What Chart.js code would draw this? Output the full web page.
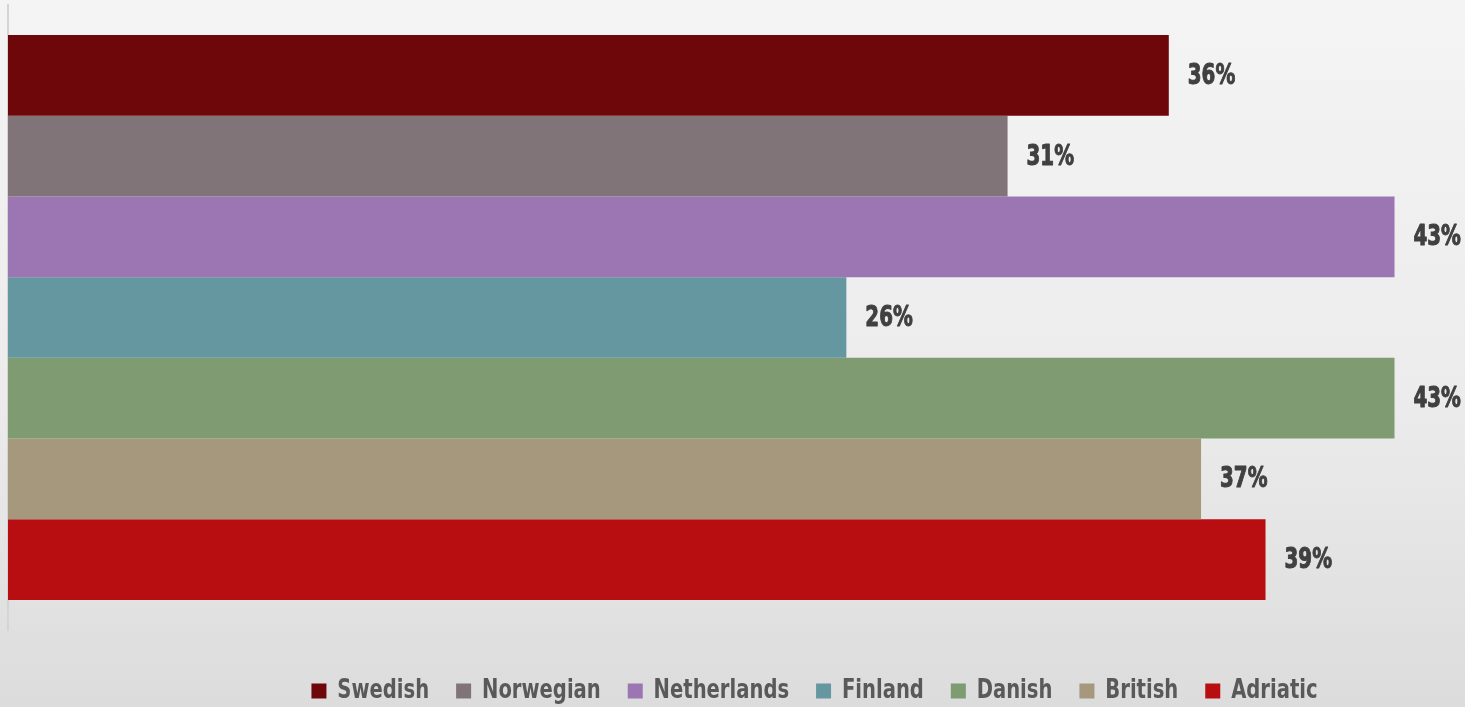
<!DOCTYPE html>
<html><head><meta charset="utf-8">
<script src="https://cdn.jsdelivr.net/npm/chart.js@4.4.1/dist/chart.umd.min.js"></script>
<style>
html,body{margin:0;padding:0;width:1465px;height:707px;overflow:hidden;}
body{background:linear-gradient(180deg,#f4f4f4 0%,#ececec 55%,#dcdcdc 100%);}
#wrap{position:relative;width:1465px;height:707px;}
</style></head><body><div id="wrap"><canvas id="c"></canvas></div>
<script>
const categories = [''];
const seriesNames = ['Swedish','Norwegian','Netherlands','Finland','Danish','British','Adriatic'];
const seriesValues = [36, 31, 43, 26, 43, 37, 39];
const seriesColors = ['#6e0709','#807479','#9b76b2','#6597a1','#7f9b71','#a5987c','#b90e11'];
const axisMax = 45;

const FONT = "'Liberation Sans Narrow','DejaVu Sans Condensed','Arial Narrow',sans-serif";
const SX = 0.806;          // horizontal condensing to mimic a narrow display face
const LEGEND_CX = 814.5;
const LEGEND_FONT = 27;
const LEGEND_PAD = 33.5;

const datasets = seriesNames.map((name, i) => ({
  label: name,
  data: [seriesValues[i]],
  backgroundColor: seriesColors[i],
  borderWidth: 0,
  categoryPercentage: 0.904,
  barPercentage: 1
}));

const valueLabels = {
  id: 'valueLabels',
  afterDatasetsDraw(chart) {
    const ctx = chart.ctx;
    chart.data.datasets.forEach((ds, i) => {
      const meta = chart.getDatasetMeta(i);
      meta.data.forEach((el, j) => {
        ctx.save();
        ctx.translate(el.x + 19, el.y + 1);
        ctx.scale(0.76, 1);
        ctx.font = 'bold 29px ' + FONT;
        ctx.fillStyle = '#404040';
        ctx.strokeStyle = '#404040';
        ctx.lineWidth = 1;
        ctx.lineJoin = 'round';
        ctx.textAlign = 'left';
        ctx.textBaseline = 'middle';
        const t = Math.round(ds.data[j]) + '%';
        ctx.fillText(t, 0, 0);
        ctx.strokeText(t, 0, 0);
        ctx.restore();
      });
    });
  }
};

const legendShift = {
  id: 'legendShift',
  afterUpdate(chart) {
    const lg = chart.legend;
    if (!lg) return;
    const w = lg.right - lg.left;
    const h = lg.bottom - lg.top;
    lg.left = LEGEND_CX - w / 2; lg.right = LEGEND_CX + w / 2;
    const top = 691 - LEGEND_PAD - LEGEND_FONT / 2;
    lg.top = top; lg.bottom = top + h;
    if (!lg._condensed) {
      const orig = lg.draw;
      lg.draw = function (area) {
        const ctx = this.ctx;
        ctx.save();
        ctx.translate(LEGEND_CX, 0);
        ctx.scale(SX, 1);
        ctx.translate(-LEGEND_CX, 0);
        orig.call(this, area);
        ctx.restore();
      };
      lg._condensed = true;
    }
  }
};

new Chart(document.getElementById('c'), {
  type: 'bar',
  data: { labels: categories, datasets },
  options: {
    indexAxis: 'y',
    responsive: true,
    maintainAspectRatio: false,
    animation: false,
    layout: { padding: { left: 8, right: 6, top: 5, bottom: 6.5 } },
    scales: {
      x: { display: false, min: 0, max: axisMax },
      y: {
        display: true,
        grid: { display: false, drawTicks: false },
        ticks: { display: false },
        border: { display: true, color: '#d4d4d4', width: 2 }
      }
    },
    plugins: {
      tooltip: { enabled: false },
      legend: {
        position: 'bottom',
        labels: {
          boxWidth: 15 / SX, boxHeight: 15, padding: LEGEND_PAD,
          color: '#595959',
          font: { family: FONT, size: LEGEND_FONT, weight: 'bold' }
        }
      }
    }
  },
  plugins: [valueLabels, legendShift]
});
</script></body></html>
